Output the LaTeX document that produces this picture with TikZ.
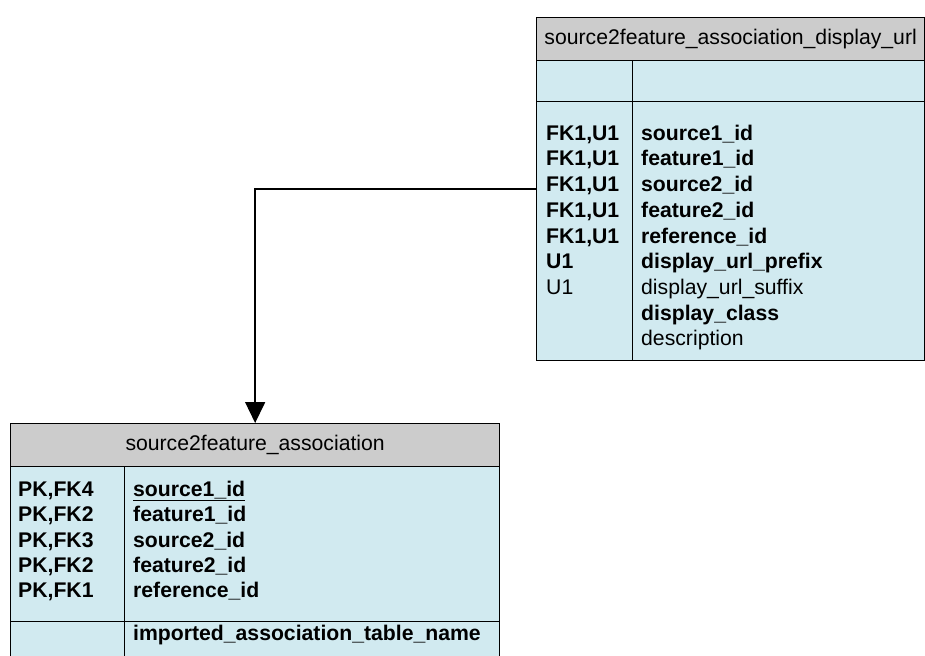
\documentclass[tikz,border=0pt]{standalone}
\usepackage{fontspec}
\setmainfont{Liberation Sans}
\usetikzlibrary{arrows.meta}
\definecolor{hdrgray}{RGB}{204,204,204}
\definecolor{bodyblue}{RGB}{209,234,240}
\begin{document}
\begin{tikzpicture}[x=1pt,y=-1pt,
  box/.style={draw=black, line width=1.3pt, inner sep=0pt, anchor=north west},
  hdr/.style={box, fill=hdrgray, font=\fontsize{21.2}{25.7}\selectfont},
  bdy/.style={box, fill=bodyblue},
  txt/.style={anchor=base west, inner sep=0pt, font=\fontsize{21.2}{25.7}\selectfont},
  btxt/.style={anchor=base west, inner sep=0pt, font=\fontsize{21.2}{25.7}\selectfont\bfseries},
  conn/.style={draw=black, line width=1.5pt, -{Triangle[length=21pt,width=20pt]}}]
\clip (0,0) rectangle (925,655);
\fill[white] (0,0) rectangle (925,655);

% ---- top-right table ----
\node[hdr, minimum width=388pt, minimum height=43pt] (rhead) at (536,17) {source2feature\_association\_display\_url};
\node[bdy, minimum width=96pt, minimum height=41pt] (rk0) at (536,60) {};
\node[bdy, minimum width=292pt, minimum height=41pt] (rn0) at (632,60) {};
\node[bdy, minimum width=96pt, minimum height=259pt] (rk1) at (536,101) {};
\node[bdy, minimum width=292pt, minimum height=259pt] (rn1) at (632,101) {};

\node[btxt] (rka) at (546,140.3) {FK1,U1};
\node[btxt] (rkb) at (546,166.0) {FK1,U1};
\node[btxt] (rkc) at (546,191.7) {FK1,U1};
\node[btxt] (rkd) at (546,217.4) {FK1,U1};
\node[btxt] (rke) at (546,243.1) {FK1,U1};
\node[btxt] (rkf) at (546,268.8) {U1};
\node[txt]  (rkg) at (546,294.5) {U1};

\node[btxt] (rna) at (641,140.3) {source1\_id};
\node[btxt] (rnb) at (641,166.0) {feature1\_id};
\node[btxt] (rnc) at (641,191.7) {source2\_id};
\node[btxt] (rnd) at (641,217.4) {feature2\_id};
\node[btxt] (rne) at (641,243.1) {reference\_id};
\node[btxt] (rnf) at (641,268.8) {display\_url\_prefix};
\node[txt]  (rng) at (641,294.5) {display\_url\_suffix};
\node[btxt] (rnh) at (641,320.2) {display\_class};
\node[txt]  (rni) at (641,345.9) {description};

% ---- bottom-left table ----
\node[hdr, minimum width=489pt, minimum height=43pt] (bhead) at (10,423) {source2feature\_association};
\node[bdy, minimum width=114pt, minimum height=155pt] (bk1) at (10,466) {};
\node[bdy, minimum width=375pt, minimum height=155pt] (bn1) at (124,466) {};
\node[bdy, minimum width=114pt, minimum height=60pt] (bk2) at (10,621) {};
\node[bdy, minimum width=375pt, minimum height=60pt] (bn2) at (124,621) {};

\node[btxt] (bka) at (18,496.6) {PK,FK4};
\node[btxt] (bkb) at (18,521.9) {PK,FK2};
\node[btxt] (bkc) at (18,547.2) {PK,FK3};
\node[btxt] (bkd) at (18,572.5) {PK,FK2};
\node[btxt] (bke) at (18,597.8) {PK,FK1};

\node[btxt] (bna) at (133,496.6) {\underline{source1\_id}};
\node[btxt] (bnb) at (133,521.9) {feature1\_id};
\node[btxt] (bnc) at (133,547.2) {source2\_id};
\node[btxt] (bnd) at (133,572.5) {feature2\_id};
\node[btxt] (bne) at (133,597.8) {reference\_id};
\node[btxt] (bnf) at (133,640.3) {imported\_association\_table\_name};

% ---- connector ----
\coordinate (src) at (rk1.west |- 0,189);
\draw[conn] (src) -| (bhead.north);
\end{tikzpicture}
\end{document}
